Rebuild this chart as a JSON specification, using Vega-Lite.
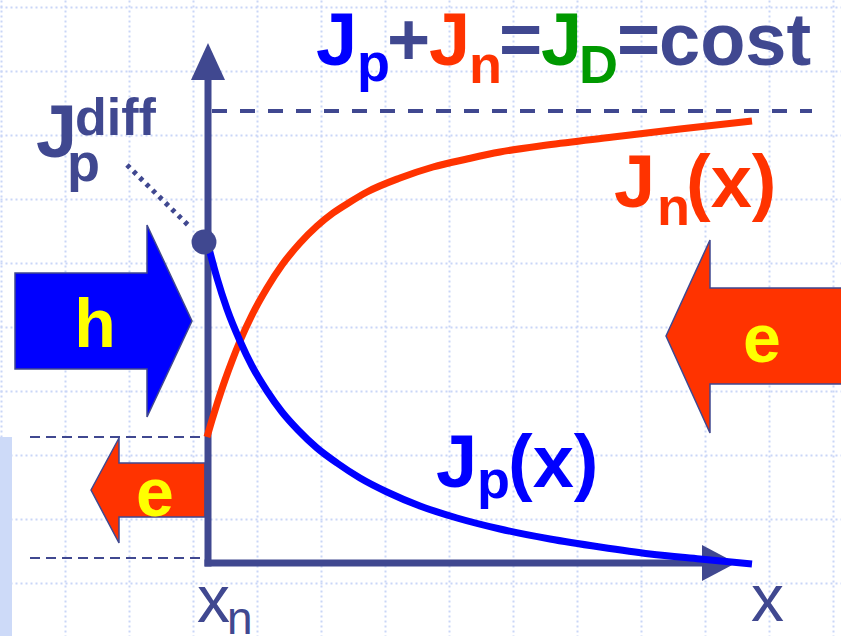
{
  "$schema": "https://vega.github.io/schema/vega-lite/v6.json",
  "width": 841,
  "height": 636,
  "padding": 0,
  "autosize": {"type": "none"},
  "background": "white",
  "config": {"view": {"stroke": null}, "font": "Liberation Sans"},
  "datasets": {
    "bg": [{"x": 0, "x2": 12, "y": 0, "y2": 199}],
    "dashTop": [{"x": 212, "x2": 812, "y": 525, "y2": 525}],
    "dashLow": [{"x": 30, "x2": 207, "y": 199, "y2": 199}, {"x": 30, "x2": 207, "y": 78, "y2": 78}],
    "pointer": [{"x": 127, "x2": 190, "y": 471, "y2": 409}],
    "axes": [{"x": 208, "x2": 208, "y": 73, "y2": 560}, {"x": 208, "x2": 706, "y": 73, "y2": 73}],
    "headUp": [{"x": 191, "y": 556, "y2": 556}, {"x": 208, "y": 593, "y2": 556}, {"x": 225, "y": 556, "y2": 556}],
    "headRight": [{"x": 702, "y": 91, "y2": 55}, {"x": 736, "y": 73, "y2": 73}],
    "arrowH": [
      {"x": 15, "y": 363, "y2": 267},
      {"x": 147, "y": 363, "y2": 267},
      {"x": 147.01, "y": 411, "y2": 219},
      {"x": 192, "y": 315, "y2": 315}
    ],
    "arrowER": [
      {"x": 666, "y": 300, "y2": 300},
      {"x": 710, "y": 396, "y2": 203},
      {"x": 710.01, "y": 348, "y2": 252},
      {"x": 845, "y": 348, "y2": 252}
    ],
    "arrowEL": [
      {"x": 91, "y": 146, "y2": 146},
      {"x": 119, "y": 198, "y2": 93},
      {"x": 119.01, "y": 173, "y2": 119},
      {"x": 205, "y": 173, "y2": 119}
    ],
    "jp": [
      {"x": 207, "y": 396}, {"x": 212, "y": 376}, {"x": 217, "y": 358}, {"x": 227, "y": 327},
      {"x": 240, "y": 295}, {"x": 252, "y": 270}, {"x": 267, "y": 245}, {"x": 282, "y": 224},
      {"x": 298, "y": 206}, {"x": 317, "y": 188}, {"x": 337, "y": 173}, {"x": 360, "y": 158},
      {"x": 387, "y": 144}, {"x": 420, "y": 130}, {"x": 457, "y": 118}, {"x": 500, "y": 107},
      {"x": 550, "y": 97}, {"x": 600, "y": 89}, {"x": 650, "y": 82}, {"x": 700, "y": 77},
      {"x": 752, "y": 72}
    ],
    "jn": [
      {"x": 207, "y": 199}, {"x": 212, "y": 216}, {"x": 217, "y": 232}, {"x": 225, "y": 256},
      {"x": 232, "y": 275}, {"x": 240, "y": 295}, {"x": 252, "y": 321}, {"x": 267, "y": 348},
      {"x": 282, "y": 371}, {"x": 300, "y": 393}, {"x": 317, "y": 410}, {"x": 333, "y": 423},
      {"x": 350, "y": 434}, {"x": 367, "y": 444}, {"x": 400, "y": 458}, {"x": 433, "y": 469},
      {"x": 467, "y": 477}, {"x": 500, "y": 484}, {"x": 547, "y": 491}, {"x": 613, "y": 499},
      {"x": 680, "y": 507}, {"x": 752, "y": 515}
    ],
    "dot": [{"x": 204, "y": 394}],
    "texts": [
      {"t": "J", "x": 316, "y": 571, "g": "p", "l": "big"},
      {"t": "+", "x": 387, "y": 571, "g": "k", "l": "big"},
      {"t": "J", "x": 429, "y": 571, "g": "n", "l": "big"},
      {"t": "=", "x": 499, "y": 571, "g": "k", "l": "big"},
      {"t": "J", "x": 541, "y": 571, "g": "D", "l": "big"},
      {"t": "=", "x": 617, "y": 571, "g": "k", "l": "big"},
      {"t": "cost", "x": 659, "y": 571, "g": "k", "l": "big"},
      {"t": "J", "x": 614, "y": 429, "g": "n", "l": "big"},
      {"t": "(x)", "x": 686, "y": 429, "g": "n", "l": "big"},
      {"t": "J", "x": 436, "y": 149, "g": "p", "l": "big"},
      {"t": "(x)", "x": 508, "y": 149, "g": "p", "l": "big"},
      {"t": "J", "x": 36, "y": 479, "g": "k", "l": "big"},
      {"t": "p", "x": 357, "y": 555, "g": "p", "l": "sub"},
      {"t": "n", "x": 469, "y": 553, "g": "n", "l": "sub"},
      {"t": "D", "x": 579, "y": 553, "g": "D", "l": "sub"},
      {"t": "n", "x": 657, "y": 411, "g": "n", "l": "sub"},
      {"t": "p", "x": 477, "y": 138, "g": "p", "l": "sub"},
      {"t": "p", "x": 67, "y": 455, "g": "k", "l": "sub"},
      {"t": "diff", "x": 75, "y": 501, "g": "k", "l": "sup"},
      {"t": "h", "x": 95, "y": 289, "g": "y", "l": "arrow"},
      {"t": "e", "x": 762, "y": 274, "g": "y", "l": "arrow"},
      {"t": "e", "x": 155, "y": 120, "g": "y", "l": "arrow"},
      {"t": "x", "x": 197, "y": 14, "g": "k", "l": "reg"},
      {"t": "x", "x": 751, "y": 15, "g": "k", "l": "reg"},
      {"t": "n", "x": 227, "y": 2, "g": "k", "l": "regsub"}
    ]
  },
  "encoding": {
    "x": {"field": "x", "type": "quantitative",
      "scale": {"domain": [0, 841], "nice": false, "zero": false},
      "axis": {"values": [1, 65, 129, 193, 257, 321, 385, 449, 513, 577, 641, 705, 769, 833],
        "grid": true, "labels": false, "ticks": false, "domain": false, "title": null,
        "gridColor": "#c9d6f7", "gridDash": [2, 3], "gridWidth": 2, "gridOpacity": 1}},
    "y": {"field": "y", "type": "quantitative",
      "scale": {"domain": [0, 636], "nice": false, "zero": false},
      "axis": {"values": [629, 565, 501, 437, 373, 309, 245, 181, 117, 53],
        "grid": true, "labels": false, "ticks": false, "domain": false, "title": null,
        "gridColor": "#c9d6f7", "gridDash": [2, 3], "gridWidth": 2, "gridOpacity": 1}}
  },
  "layer": [
    {"data": {"name": "bg"}, "mark": {"type": "rect", "color": "#cddaf8"},
      "encoding": {"x2": {"field": "x2"}, "y2": {"field": "y2"}}},
    {"data": {"name": "dashTop"}, "mark": {"type": "rule", "color": "#404890", "strokeWidth": 4, "strokeDash": [15, 13]},
      "encoding": {"x2": {"field": "x2"}, "y2": {"field": "y2"}}},
    {"data": {"name": "dashLow"}, "mark": {"type": "rule", "color": "#404890", "strokeWidth": 2, "strokeDash": [10, 6]},
      "encoding": {"x2": {"field": "x2"}, "y2": {"field": "y2"}}},
    {"data": {"name": "pointer"}, "mark": {"type": "rule", "color": "#404890", "strokeWidth": 5, "strokeDash": [4, 5]},
      "encoding": {"x2": {"field": "x2"}, "y2": {"field": "y2"}}},
    {"data": {"name": "arrowH"},
      "mark": {"type": "area", "fill": "#0000ff", "fillOpacity": 1, "stroke": "#404890", "strokeWidth": 1.5, "interpolate": "linear"},
      "encoding": {"y2": {"field": "y2"}}},
    {"data": {"name": "arrowER"},
      "mark": {"type": "area", "fill": "#ff3300", "fillOpacity": 1, "stroke": "#404890", "strokeWidth": 1.5, "interpolate": "linear"},
      "encoding": {"y2": {"field": "y2"}}},
    {"data": {"name": "arrowEL"},
      "mark": {"type": "area", "fill": "#ff3300", "fillOpacity": 1, "stroke": "#404890", "strokeWidth": 1.5, "interpolate": "linear"},
      "encoding": {"y2": {"field": "y2"}}},
    {"data": {"name": "axes"}, "mark": {"type": "rule", "color": "#404890", "strokeWidth": 7, "strokeCap": "square"},
      "encoding": {"x2": {"field": "x2"}, "y2": {"field": "y2"}}},
    {"data": {"name": "headUp"}, "mark": {"type": "area", "color": "#404890", "interpolate": "linear"},
      "encoding": {"y2": {"field": "y2"}}},
    {"data": {"name": "headRight"}, "mark": {"type": "area", "color": "#404890", "interpolate": "linear"},
      "encoding": {"y2": {"field": "y2"}}},
    {"data": {"name": "jn"}, "mark": {"type": "line", "color": "#ff3300", "strokeWidth": 7, "interpolate": "monotone", "strokeCap": "butt"},
      "encoding": {}},
    {"data": {"name": "jp"}, "mark": {"type": "line", "color": "#0000ff", "strokeWidth": 7, "interpolate": "monotone", "strokeCap": "butt"},
      "encoding": {}},
    {"data": {"name": "dot"}, "mark": {"type": "point", "filled": true, "color": "#404890", "size": 620, "opacity": 1},
      "encoding": {}},
    {"data": {"name": "texts"}, "transform": [{"filter": "datum.l === 'big'"}],
      "mark": {"type": "text", "align": "left", "baseline": "alphabetic", "fontSize": 74, "fontWeight": "bold", "font": "Liberation Sans"},
      "encoding": {"text": {"field": "t"}, "color": {"field": "g", "type": "nominal", "legend": null,
        "scale": {"domain": ["p", "n", "D", "k", "y"], "range": ["#0000ff", "#ff3300", "#009900", "#404890", "#ffff00"]}}}},
    {"data": {"name": "texts"}, "transform": [{"filter": "datum.l === 'sub'"}],
      "mark": {"type": "text", "align": "left", "baseline": "alphabetic", "fontSize": 54, "fontWeight": "bold", "font": "Liberation Sans"},
      "encoding": {"text": {"field": "t"}, "color": {"field": "g", "type": "nominal", "legend": null}}},
    {"data": {"name": "texts"}, "transform": [{"filter": "datum.l === 'sup'"}],
      "mark": {"type": "text", "align": "left", "baseline": "alphabetic", "fontSize": 52, "fontWeight": "bold", "font": "Liberation Sans"},
      "encoding": {"text": {"field": "t"}, "color": {"field": "g", "type": "nominal", "legend": null}}},
    {"data": {"name": "texts"}, "transform": [{"filter": "datum.l === 'arrow'"}],
      "mark": {"type": "text", "align": "center", "baseline": "alphabetic", "fontSize": 68, "fontWeight": "bold", "font": "Liberation Sans"},
      "encoding": {"text": {"field": "t"}, "color": {"field": "g", "type": "nominal", "legend": null}}},
    {"data": {"name": "texts"}, "transform": [{"filter": "datum.l === 'reg'"}],
      "mark": {"type": "text", "align": "left", "baseline": "alphabetic", "fontSize": 66, "fontWeight": "normal", "font": "Liberation Sans"},
      "encoding": {"text": {"field": "t"}, "color": {"field": "g", "type": "nominal", "legend": null}}},
    {"data": {"name": "texts"}, "transform": [{"filter": "datum.l === 'regsub'"}],
      "mark": {"type": "text", "align": "left", "baseline": "alphabetic", "fontSize": 46, "fontWeight": "normal", "font": "Liberation Sans"},
      "encoding": {"text": {"field": "t"}, "color": {"field": "g", "type": "nominal", "legend": null}}}
  ]
}
